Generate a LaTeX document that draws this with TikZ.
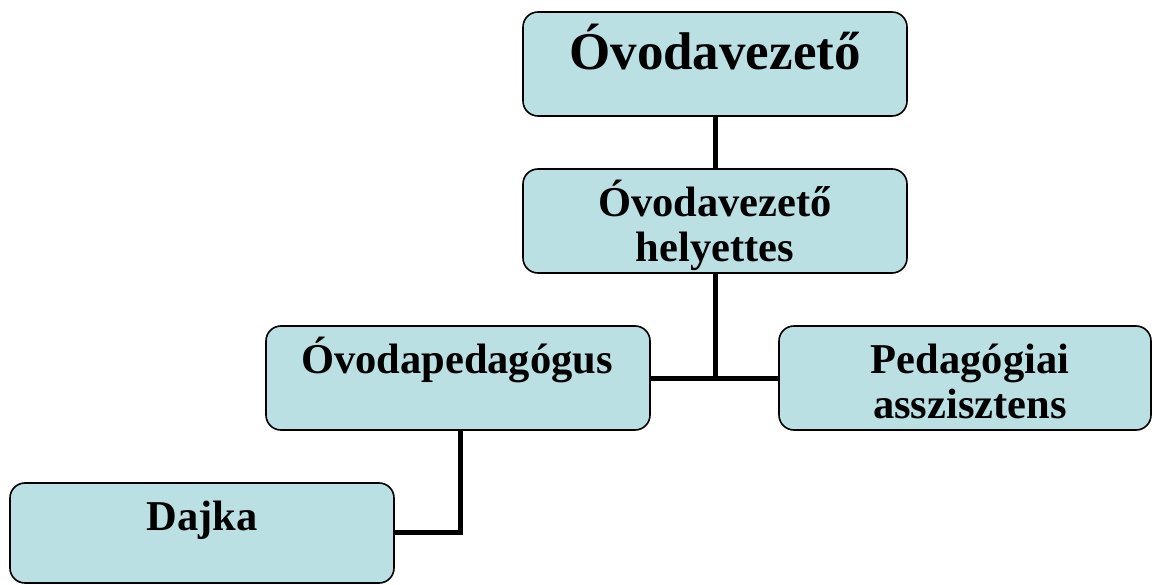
\documentclass[tikz,border=0pt]{standalone}
\usepackage{fontspec}
\setmainfont{Liberation Serif}
\definecolor{boxfill}{RGB}{187,224,227}
\tikzset{
  orgbox/.style={draw=black, line width=1.6pt, fill=boxfill, rounded corners=15pt, inner sep=0pt},
  lbl/.style={anchor=base, inner sep=0pt, font=\bfseries\fontsize{42.5}{48}\selectfont},
  biglbl/.style={anchor=base, inner sep=0pt, font=\bfseries\fontsize{53}{60}\selectfont},
  conn/.style={line width=5pt, draw=black}
}
\begin{document}
\begin{tikzpicture}[x=1pt,y=-1pt]
\useasboundingbox (0,0) rectangle (1154,585);
\coordinate (j1) at (715,378);
\coordinate (j2) at (460,532);
% boxes
\draw[orgbox] (523,12) rectangle (907,116);
\draw[orgbox] (523,169) rectangle (907,273);
\draw[orgbox] (266,326) rectangle (650,430);
\draw[orgbox] (779,326) rectangle (1151,430);
\draw[orgbox] (10,483) rectangle (394,583);
\coordinate (b1s) at (715,116);
\coordinate (b2n) at (715,169);
\coordinate (b2s) at (715,273);
\coordinate (b3e) at (650,378);
\coordinate (b4w) at (779,378);
\coordinate (b3s) at (460,430);
\coordinate (b5e) at (394,532);
\draw[conn] (b1s) -- (b2n);
\draw[conn] (b2s) -- (j1);
\draw[conn] (b3e) -- (b4w);
\draw[conn] (b3s) -- (j2) -- (b5e);
% texts
\node[biglbl] (t1) at (715,70) {Óvodavezető};
\begin{scope}
\clip[rounded corners=15pt] (523,169) rectangle (907,273);
\node[lbl] (t2a) at (715,217) {Óvodavezető};
\node[lbl] (t2b) at (715,262) {helyettes};
\end{scope}
\node[lbl] (t3) at (457,373) {Óvodapedagógus};
\node[lbl] (t4a) at (970,373) {Pedagógiai};
\node[lbl] (t4b) at (970,418) {asszisztens};
\node[lbl] (t5) at (202,530) {Dajka};
\end{tikzpicture}
\end{document}
